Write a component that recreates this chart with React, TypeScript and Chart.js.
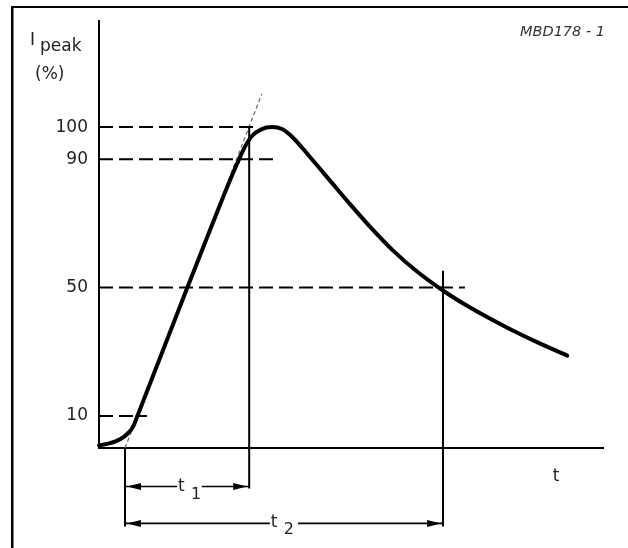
import React, { useEffect, useRef } from 'react';
import { Chart, registerables } from 'chart.js';

Chart.register(...registerables);

// ---- data (t in arbitrary time units 0..100, I in % of peak) ----
const yTicks = [10, 50, 90, 100];

const curveT = [0, 2.2, 4.2, 5.75, 6.75, 7.7, 12.5, 17.3, 22.4, 26.2, 27.8, 29.0, 30.4, 32.2, 34.3, 36.3, 38.3, 41.9, 45.8, 49.8, 53.8, 58.3, 63.1, 68.3, 72.2, 77.0, 81.5, 86.9, 92.9];
const curveI = [0.8, 1.5, 2.7, 4.6, 6.6, 10.3, 29.7, 49.1, 69.4, 84.2, 90.0, 94.0, 97.3, 99.3, 100.0, 99.4, 97.0, 90.6, 83.4, 76.0, 68.9, 61.6, 55.0, 49.0, 45.1, 40.8, 37.1, 33.0, 28.8];

const tangentT = [5.16, 32.3];
const tangentI = [0, 110.3];

const refLevels = [100, 90, 50, 10];
const refEnds = [31.0, 35.3, 72.6, 9.5];

const vlineT = [5.16, 29.8, 68.25];
const vlineTop = [0, 100, 55.2];
const vlineBottom = [-24.5, -12.6, -24.5];

const dimLevel = [-12.0, -23.5];
const dimFrom = [5.16, 5.16];
const dimTo = [29.8, 68.25];
const dimGapFrom = [15.5, 33.9];
const dimGapTo = [20.4, 39.5];
const dimSub = ['1', '2'];

const FONT = "'DejaVu Sans', sans-serif";

export default function App() {
  const ref = useRef<HTMLCanvasElement>(null);

  useEffect(() => {
    const canvas = ref.current!;
    const datasets: any[] = [];

    datasets.push({
      data: curveT.map((t, i) => ({ x: t, y: curveI[i] })),
      borderColor: '#000',
      borderWidth: 4,
      cubicInterpolationMode: 'monotone',
      borderCapStyle: 'round',
      borderJoinStyle: 'round',
      order: 0,
      clip: false,
    });

    datasets.push({
      data: tangentT.map((t, i) => ({ x: t, y: tangentI[i] })),
      borderColor: '#666',
      borderWidth: 1.2,
      borderDash: [4, 3],
      order: 5,
      clip: false,
    });

    refLevels.forEach((lv, i) => {
      datasets.push({
        data: [{ x: 0, y: lv }, { x: refEnds[i], y: lv }],
        borderColor: '#000',
        borderWidth: 2,
        borderDash: [14, 6],
        order: 3,
        clip: false,
      });
    });

    vlineT.forEach((t, i) => {
      datasets.push({
        data: [{ x: t, y: vlineTop[i] }, { x: t, y: vlineBottom[i] }],
        borderColor: '#000',
        borderWidth: 2,
        order: 2,
        clip: false,
      });
    });

    dimLevel.forEach((lv, i) => {
      datasets.push({
        data: [
          { x: dimFrom[i], y: lv },
          { x: dimGapFrom[i], y: lv },
          { x: (dimGapFrom[i] + dimGapTo[i]) / 2, y: null },
          { x: dimGapTo[i], y: lv },
          { x: dimTo[i], y: lv },
        ],
        borderColor: '#000',
        borderWidth: 1.6,
        spanGaps: false,
        order: 2,
        clip: false,
      });
    });

    const decor = {
      id: 'decor',
      beforeDraw(chart: any) {
        const ctx = chart.ctx;
        ctx.save();
        ctx.fillStyle = '#fff';
        ctx.fillRect(0, 0, chart.width, chart.height);
        ctx.fillStyle = '#000';
        ctx.fillRect(11, 6, 2.5, chart.height - 6);
        ctx.fillRect(11, 6, chart.width - 11, 2);
        ctx.restore();
      },
      afterDatasetsDraw(chart: any) {
        const ctx = chart.ctx;
        const xs = chart.scales.x;
        const ys = chart.scales.y;
        ctx.save();
        ctx.fillStyle = '#000';
        // arrowheads on dimension lines
        dimLevel.forEach((lv, i) => {
          const y = ys.getPixelForValue(lv);
          const l = xs.getPixelForValue(dimFrom[i]) + 2;
          const r = xs.getPixelForValue(dimTo[i]) - 2;
          ctx.beginPath();
          ctx.moveTo(l, y);
          ctx.lineTo(l + 14, y - 3.5);
          ctx.lineTo(l + 14, y + 3.5);
          ctx.closePath();
          ctx.fill();
          ctx.beginPath();
          ctx.moveTo(r, y);
          ctx.lineTo(r - 14, y - 3.5);
          ctx.lineTo(r - 14, y + 3.5);
          ctx.closePath();
          ctx.fill();
        });

        // texts
        ctx.fillStyle = '#222';
        ctx.textBaseline = 'alphabetic';
        ctx.textAlign = 'left';
        ctx.font = `17px ${FONT}`;
        ctx.fillText('I', 30, 45);
        ctx.fillText('peak', 40, 51);
        ctx.fillText('(%)', 35, 79);

        ctx.textAlign = 'center';
        ctx.fillText('t', 556, 481);

        // dimension labels
        dimLevel.forEach((lv, i) => {
          const y = ys.getPixelForValue(lv);
          const g0 = xs.getPixelForValue(dimGapFrom[i]);
          ctx.textAlign = 'left';
          ctx.font = `17px ${FONT}`;
          ctx.fillText('t', g0 + 1, y + 4);
          ctx.font = `16px ${FONT}`;
          ctx.fillText(dimSub[i], g0 + 14, y + (i === 0 ? 12 : 11));
        });

        ctx.textAlign = 'right';
        ctx.font = `italic 14.5px ${FONT}`;
        ctx.fillStyle = '#333';
        ctx.fillText('MBD178 - 1', 605, 36);
        ctx.restore();
      },
    };

    const chart = new Chart(canvas, {
      type: 'line',
      data: { datasets },
      options: {
        animation: false,
        responsive: true,
        maintainAspectRatio: false,
        layout: { padding: { left: 0, right: 25, top: 20, bottom: 0 } },
        elements: { point: { radius: 0, hoverRadius: 0 }, line: { tension: 0 } },
        plugins: { legend: { display: false }, tooltip: { enabled: false } },
        events: [],
        scales: {
          x: {
            type: 'linear',
            min: 0,
            max: 100,
            grid: { display: false, drawTicks: false },
            border: { display: true, color: '#000', width: 2 },
            ticks: { display: false },
            afterFit: (s: any) => { s.height = 100; },
          },
          y: {
            type: 'linear',
            min: 0,
            max: 133,
            grid: { display: false, drawTicks: false },
            border: { display: true, color: '#000', width: 2 },
            ticks: {
              padding: 11,
              color: '#222',
              font: { family: FONT, size: 17 },
            },
            afterBuildTicks: (s: any) => { s.ticks = yTicks.map((v) => ({ value: v })); },
            afterFit: (s: any) => { s.width = 99; },
          },
        },
      },
      plugins: [decor],
    });

    return () => chart.destroy();
  }, []);

  return (
    <div style={{ position: 'fixed', left: 0, top: 0, width: 628, height: 548, background: '#fff' }}>
      <canvas ref={ref} />
    </div>
  );
}
